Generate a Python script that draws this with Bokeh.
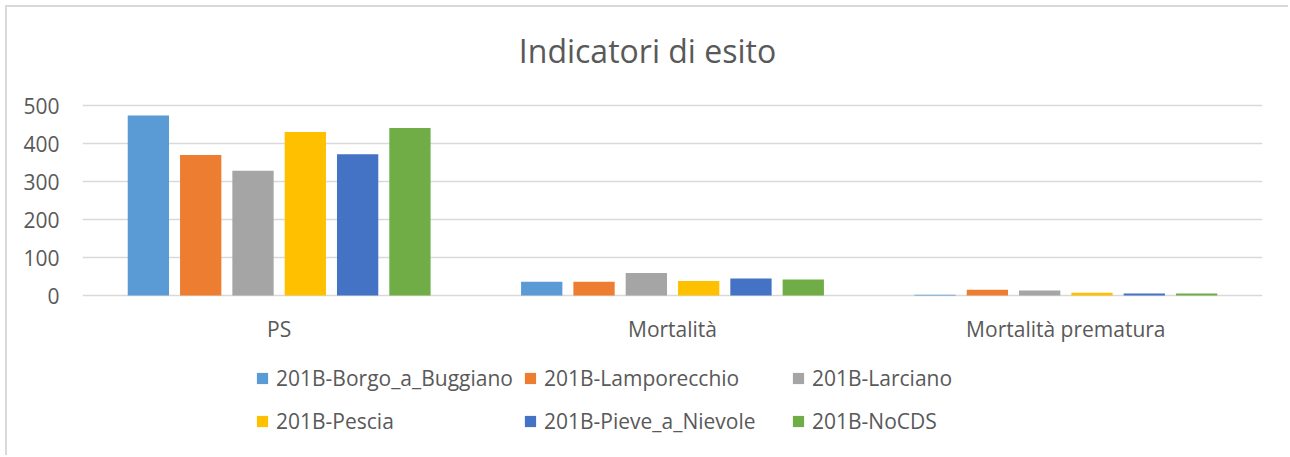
from bokeh.plotting import figure
from bokeh.models import (ColumnDataSource, FactorRange, Range1d, FixedTicker,
                          Legend, LegendItem, Label)
from bokeh.transform import dodge
from bokeh.core.properties import value
from bokeh.embed import file_html
from bokeh.resources import INLINE

# ---- data ----
categories = ["PS", "Mortalità", "Mortalità prematura"]
series = ["201B-Borgo_a_Buggiano", "201B-Lamporecchio", "201B-Larciano",
          "201B-Pescia", "201B-Pieve_a_Nievole", "201B-NoCDS"]
borgo = [474, 36, 2]
lamporecchio = [370, 36, 15]
larciano = [328, 59, 13]
pescia = [430, 38, 7]
pieve = [372, 45, 5]
nocds = [441, 42, 5]
y_ticks = [0, 100, 200, 300, 400, 500]
colors = ["#5B9BD5", "#ED7D31", "#A5A5A5", "#FFC000", "#4472C4", "#70AD47"]
title_text = "Indicatori di esito"

FONT = "Open Sans"
TXT = "#595959"
GRID = "#D9D9D9"

keys = ["borgo", "lamporecchio", "larciano", "pescia", "pieve", "nocds"]
src = ColumnDataSource(dict(cat=categories, zero=[0] * len(categories),
                            borgo=borgo, lamporecchio=lamporecchio,
                            larciano=larciano, pescia=pescia, pieve=pieve, nocds=nocds))

W, H = 1283, 450
FRAME_TOP = 98          # canvas px where value 500 sits
PX_PER_UNIT = 190 / 500
y_top = 500 + FRAME_TOP / PX_PER_UNIT
y_bot = y_top - H / PX_PER_UNIT

p = figure(width=W, height=H, x_range=FactorRange(*categories),
           y_range=Range1d(y_bot, y_top), output_backend="svg", toolbar_location=None,
           min_border_left=75, min_border_right=28, min_border_top=0,
           min_border_bottom=0)
p.styles = {"margin-left": "5px", "margin-top": "5px",
            "border-left": "2px solid #D9D9D9", "border-top": "2px solid #D9D9D9",
            "border-right": "0px", "border-bottom": "0px"}
p.outline_line_color = None
p.background_fill_color = "white"
p.border_fill_color = "white"

pitch = 0.133
bar_w = 0.105
renderers = []
for i, (k, c) in enumerate(zip(keys, colors)):
    off = (i - 2.5) * pitch
    r = p.vbar(x=dodge("cat", off, range=p.x_range), top=k, width=bar_w,
               source=src, fill_color=c, line_color=None)
    renderers.append(r)

# category labels under the zero line
p.text(x="cat", y="zero", text="cat", source=src, y_offset=33,
       text_align="center", text_baseline="middle",
       text_font=value(FONT), text_font_size="21px", text_color=TXT)

# axes / grid
p.xaxis.visible = False
p.xgrid.grid_line_color = None
p.ygrid.grid_line_color = GRID
p.ygrid.grid_line_width = 1.5
p.yaxis.ticker = FixedTicker(ticks=y_ticks)
ax = p.yaxis[0]
ax.axis_line_color = None
ax.major_tick_line_color = None
ax.minor_tick_line_color = None
ax.major_tick_in = 0
ax.major_tick_out = 0
ax.minor_tick_in = 0
ax.minor_tick_out = 0
ax.major_label_text_font = FONT
ax.major_label_text_color = TXT
ax.major_label_text_font_size = "21px"
ax.major_label_standoff = 23

# title
p.add_layout(Label(x=565, y=H - 43, x_units="screen", y_units="screen",
                   text=title_text, text_align="center", text_baseline="middle",
                   text_font=FONT, text_font_size="32px", text_color=TXT))

# legend: two rows of three items
def make_legend(idx, y):
    return Legend(items=[LegendItem(label=series[i], renderers=[renderers[i]]) for i in idx],
                  orientation="horizontal", location=(173, y),
                  glyph_width=14, glyph_height=14, label_standoff=7,
                  label_width=247, label_height=21, spacing=0, padding=0, margin=0,
                  border_line_color=None, background_fill_alpha=0,
                  label_text_font=FONT, label_text_font_size="21px",
                  label_text_color=TXT)

p.add_layout(make_legend([0, 1, 2], H - 384.5), "center")
p.add_layout(make_legend([3, 4, 5], H - 427.5), "center")

open("out.html", "w").write(file_html(p, INLINE))
